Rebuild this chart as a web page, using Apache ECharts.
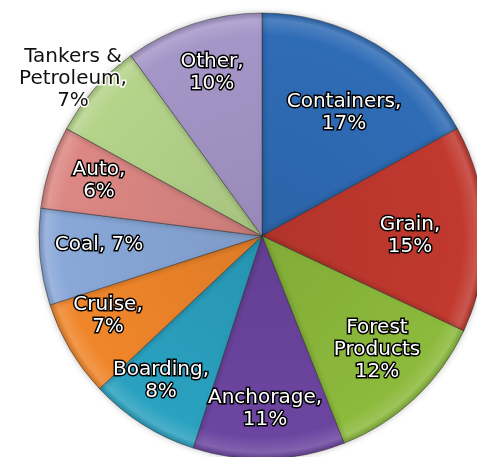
<!DOCTYPE html>
<html>
<head>
<meta charset="utf-8">
<script src="https://cdn.jsdelivr.net/npm/echarts@6/dist/echarts.min.js"></script>
<style>
  html, body { margin: 0; padding: 0; background: #fff; }
  #chart { width: 477px; height: 457px; }
</style>
</head>
<body>
<div id="chart"></div>
<script>
// shares in percent, clockwise from 12 o'clock
const categories = ['Containers', 'Grain', 'Forest Products', 'Anchorage', 'Boarding',
    'Cruise', 'Coal', 'Auto', 'Tankers & Petroleum', 'Other'];
const shares = [17, 15, 12, 11, 8, 7, 7, 6, 7, 10];
const labelTexts = ['Containers,\n17%', 'Grain,\n15%', 'Forest\nProducts\n12%', 'Anchorage,\n11%',
    'Boarding,\n8%', 'Cruise,\n7%', 'Coal, 7%', 'Auto,\n6%', 'Tankers &\nPetroleum,\n7%', 'Other,\n10%'];
const colors = ['#2f6cb6', '#c1392f', '#8cba3c', '#6c45a0', '#2aa1c0',
    '#f0862a', '#89a8d8', '#dc8784', '#b5d48a', '#a596c8'];

// where each label sits (pixels)
const labelPos = [[344, 113], [410, 236], [377, 350], [265, 409], [161, 381],
    [108, 316], [99, 245], [99, 181], [73, 79], [212, 73]];

const cx = 262, cy = 236, r = 223;

function shade(hex, amt) {
    let n = parseInt(hex.slice(1), 16);
    let c = [n >> 16, (n >> 8) & 255, n & 255].map(v => {
        v = amt > 0 ? v + (255 - v) * amt : v * (1 + amt);
        return Math.round(Math.max(0, Math.min(255, v)));
    });
    return 'rgb(' + c.join(',') + ')';
}

let myChart = echarts.init(document.getElementById('chart'));
myChart.setOption({
    animation: false,
    series: [{
        type: 'pie',
        center: [cx, cy],
        radius: r,
        startAngle: 90,
        data: categories.map((name, i) => ({
            name: name,
            value: shares[i],
            itemStyle: {
                color: {
                    type: 'radial', x: cx, y: cy, r: r, global: true,
                    colorStops: [
                        {offset: 0, color: shade(colors[i], -0.08)},
                        {offset: 0.9, color: colors[i]},
                        {offset: 0.97, color: shade(colors[i], 0.15)},
                        {offset: 1, color: shade(colors[i], -0.15)}
                    ]
                }
            },
            label: {
                color: i === 8 ? '#111' : '#fff',
                textBorderColor: i === 8 ? '#fff' : '#000'
            }
        })),
        itemStyle: {
            borderColor: 'rgba(40,40,40,0.45)',
            borderWidth: 1,
            shadowBlur: 6,
            shadowColor: 'rgba(0,0,0,0.25)'
        },
        label: {
            position: 'inside',
            formatter: p => labelTexts[p.dataIndex],
            fontFamily: 'DejaVu Sans',
            fontSize: 20,
            lineHeight: 22,
            textBorderWidth: 3,
            align: 'center'
        },
        labelLine: {show: false},
        labelLayout: p => ({x: labelPos[p.dataIndex][0], y: labelPos[p.dataIndex][1]})
    }]
});
</script>
</body>
</html>
